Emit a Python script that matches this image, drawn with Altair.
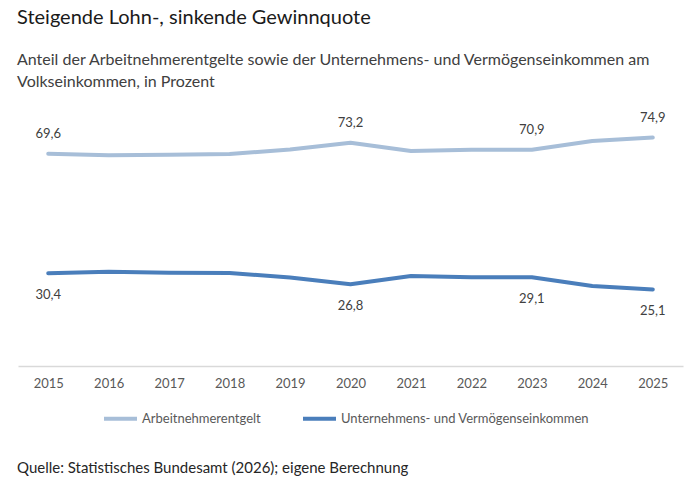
import altair as alt
import pandas as pd

# Shares of national income, in percent
years = [2015, 2016, 2017, 2018, 2019, 2020, 2021, 2022, 2023, 2024, 2025]
wages = [69.6, 69.1, 69.3, 69.5, 71.0, 73.2, 70.5, 70.9, 70.9, 73.8, 74.9]
profits = [30.4, 30.9, 30.6, 30.5, 29.0, 26.8, 29.5, 29.1, 29.1, 26.2, 25.1]
labelled_years = [2015, 2020, 2023, 2025]

series_names = ["Arbeitnehmerentgelt", "Unternehmens- und Vermögenseinkommen"]
series_colors = ["#a7bed8", "#4a7ebb"]
source_note = ["Quelle: Statistisches Bundesamt (2026); eigene Berechnung"]

FONT = "Lato"

rows = []
for y, w, p in zip(years, wages, profits):
    rows.append({"Jahr": str(y), "Reihe": series_names[0], "Wert": w})
    rows.append({"Jahr": str(y), "Reihe": series_names[1], "Wert": p})
df = pd.DataFrame(rows)
df["Label"] = df["Wert"].map(lambda v: f"{v:.1f}".replace(".", ","))
df["Beschriftet"] = df["Jahr"].astype(int).isin(labelled_years)

x_enc = alt.X(
    "Jahr:O",
    title=None,
    scale=alt.Scale(type="point", padding=0.5),
    axis=alt.Axis(
        labelAngle=0,
        ticks=False,
        grid=False,
        domainColor="#d9d9d9",
        domainWidth=1.5,
        labelFont=FONT,
        labelFontSize=13,
        labelColor="#595959",
        labelPadding=11,
    ),
)
y_scale = alt.Scale(domain=[0, 80], nice=False, zero=True)
y_enc = alt.Y("Wert:Q", scale=y_scale, axis=None)

color_enc = alt.Color(
    "Reihe:N",
    scale=alt.Scale(domain=series_names, range=series_colors),
    legend=alt.Legend(
        title=None,
        orient="none",
        direction="horizontal",
        legendX=84,
        legendY=278,
        symbolType="stroke",
        symbolSize=1089,
        symbolStrokeWidth=4,
        labelFont=FONT,
        labelFontSize=13,
        labelColor="#595959",
        labelOffset=3,
        labelLimit=0,
        columnPadding=34,
        padding=0,
    ),
)

base = alt.Chart(df)

lines = base.mark_line(strokeWidth=4, strokeCap="round", strokeJoin="round").encode(
    x=x_enc, y=y_enc, color=color_enc
)

label_style = dict(font=FONT, fontSize=13, color="#404040", baseline="middle")
upper_labels = (
    base.transform_filter(alt.datum.Beschriftet)
    .transform_filter(alt.datum.Reihe == series_names[0])
    .mark_text(dy=-20, **label_style)
    .encode(x="Jahr:O", y=alt.Y("Wert:Q", scale=y_scale), text="Label:N")
)
lower_labels = (
    base.transform_filter(alt.datum.Beschriftet)
    .transform_filter(alt.datum.Reihe == series_names[1])
    .mark_text(dy=22, **label_style)
    .encode(x="Jahr:O", y=alt.Y("Wert:Q", scale=y_scale), text="Label:N")
)

footer = (
    alt.Chart(pd.DataFrame({"t": source_note}))
    .mark_text(font=FONT, fontSize=15, color="#262626", align="left", baseline="middle")
    .encode(x=alt.value(-1), y=alt.value(346), text="t:N")
)

chart = (
    alt.layer(lines, upper_labels, lower_labels, footer)
    .properties(
        width=665,
        height=244,
        view=alt.ViewBackground(stroke="transparent", strokeWidth=0),
        title=alt.TitleParams(
            text="Steigende Lohn-, sinkende Gewinnquote",
            subtitle=[
                "Anteil der Arbeitnehmerentgelte sowie der Unternehmens- und Vermögenseinkommen am",
                "Volkseinkommen, in Prozent",
            ],
            anchor="start",
            frame="group",
            font=FONT,
            fontSize=20,
            fontWeight="normal",
            color="#1a1a1a",
            subtitleFont=FONT,
            subtitleFontSize=16,
            subtitleColor="#404040",
            subtitleLineHeight=22,
            subtitlePadding=24,
            offset=22,
            dx=-1,
        ),
        autosize=alt.AutoSizeParams(type="none"),
        padding={"left": 18, "top": 122, "right": 17, "bottom": 120},
    )
    .configure_view(strokeWidth=0, stroke="transparent")
    .configure(background="white")
)

chart.save("out.html", embed_options={"renderer": "svg", "actions": False})
